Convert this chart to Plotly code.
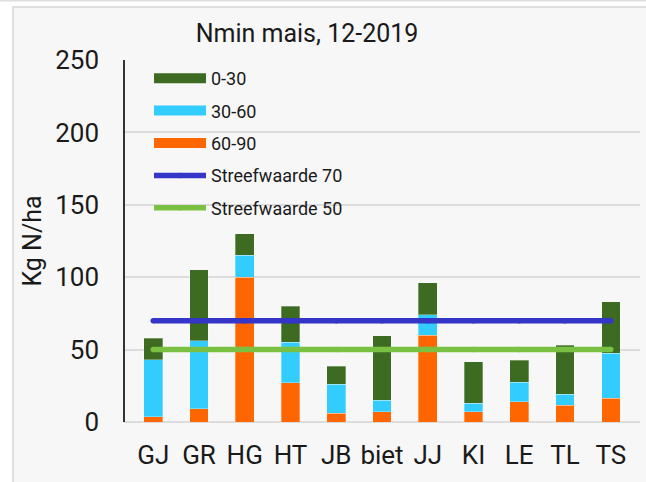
import plotly.graph_objects as go

categories = ["GJ", "GR", "HG", "HT", "JB", "biet", "JJ", "KI", "LE", "TL", "TS"]
layer_0_30 = [15, 49, 15, 25, 12.5, 44.5, 22, 28.5, 15, 34, 35.5]
layer_30_60 = [39.5, 47, 15, 28, 20, 8, 14, 6, 13.5, 7.5, 31]
layer_60_90 = [3.5, 9, 100, 27, 6, 7, 60, 7, 14, 11.5, 16.5]
streef_70 = [70] * len(categories)
streef_50 = [50] * len(categories)
y_ticks = [0, 50, 100, 150, 200, 250]

C_GREEN = "#3d6b22"
C_CYAN = "#33ccff"
C_ORANGE = "#ff6600"
C_BLUE = "#3535c8"
C_LGREEN = "#7ac143"

W, H = 646, 482
ML, MR, MT, MB = 124, 6, 60, 60
PW, PH = W - ML - MR, H - MT - MB

def px(x):
    return (x - ML) / PW

def py(y):
    return 1 - (y - MT) / PH

fig = go.Figure()
# stacked bars (bottom first)
for name, vals, col in [("60-90", layer_60_90, C_ORANGE),
                        ("30-60", layer_30_60, C_CYAN),
                        ("0-30", layer_0_30, C_GREEN)]:
    fig.add_trace(go.Bar(x=categories, y=vals, name=name, marker_color=col,
                         marker_line=dict(width=0.6, color="rgba(255,255,255,0.5)"),
                         showlegend=False))

# legend entries for bars (wide rectangles)
for rank, (name, col) in enumerate([("0-30", C_GREEN), ("30-60", C_CYAN), ("60-90", C_ORANGE)]):
    fig.add_trace(go.Scatter(x=[None], y=[None], mode="lines", name=name,
                             line=dict(color=col, width=10), legendrank=rank + 1,
                             legendgroup=name, hoverinfo="skip"))

fig.add_trace(go.Scatter(x=categories, y=streef_70, mode="lines+markers", name="Streefwaarde 70",
                         line=dict(color=C_BLUE, width=5.5),
                         marker=dict(color=C_BLUE, size=5.5, line_width=0),
                         legendrank=4, legendgroup="s70"))
fig.add_trace(go.Scatter(x=categories, y=streef_50, mode="lines+markers", name="Streefwaarde 50",
                         line=dict(color=C_LGREEN, width=5.5),
                         marker=dict(color=C_LGREEN, size=5.5, line_width=0),
                         legendrank=5, legendgroup="s50"))

shapes = [
    dict(type="rect", xref="paper", yref="paper", x0=px(0), x1=px(12), y0=py(H), y1=py(0),
         fillcolor="white", line_width=0, layer="below"),
    dict(type="rect", xref="paper", yref="paper", x0=px(0), x1=px(W), y0=py(6), y1=py(0),
         fillcolor="white", line_width=0, layer="below"),
    dict(type="rect", xref="paper", yref="paper", x0=px(0), x1=px(W), y0=py(1.5), y1=py(0),
         fillcolor="#dedede", line_width=0, layer="below"),
    dict(type="rect", xref="paper", yref="paper", x0=px(12), x1=px(W), y0=py(8), y1=py(6),
         fillcolor="#dedede", line_width=0, layer="below"),
    dict(type="rect", xref="paper", yref="paper", x0=px(12), x1=px(14), y0=py(H), y1=py(6),
         fillcolor="#dedede", line_width=0, layer="below"),
]

fig.update_layout(
    width=W, height=H,
    margin=dict(l=ML, r=MR, t=MT, b=MB, pad=0),
    paper_bgcolor="#f7f7f7", plot_bgcolor="#f7f7f7",
    barmode="stack", bargap=0.595,
    font=dict(family="Roboto", color="#1a1a1a"),
    title=dict(text="Nmin mais, 12-2019", x=px(307), xref="paper", xanchor="center",
               y=1 - 33 / H, yanchor="middle", font=dict(size=25, color="#1a1a1a")),
    xaxis=dict(type="category", tickfont=dict(size=26), showgrid=False, showline=False,
               zeroline=False, ticks="", ticklabelstandoff=15),
    yaxis=dict(range=[0, 250], tickvals=y_ticks, tickfont=dict(size=26),
               showgrid=True, gridcolor="#dcdcdc", gridwidth=1.5,
               zeroline=True, zerolinecolor="#dcdcdc", zerolinewidth=1.5,
               showline=False, ticks="", ticklabelstandoff=24,
               title=dict(text="Kg N/ha", font=dict(size=25), standoff=6)),
    legend=dict(x=px(149), y=py(60), xanchor="left", yanchor="top",
                bgcolor="rgba(0,0,0,0)", font=dict(size=18, color="#1a1a1a"),
                itemwidth=52, traceorder="grouped", tracegroupgap=6),
    shapes=shapes + [
        dict(type="line", xref="paper", yref="paper", x0=0, x1=0, y0=0, y1=1,
             line=dict(color="#333333", width=2)),
    ],
    showlegend=True,
)

fig.write_html("out.html", config={"displayModeBar": False},
               post_script="document.body.style.margin='0';document.body.style.overflow='hidden';")
